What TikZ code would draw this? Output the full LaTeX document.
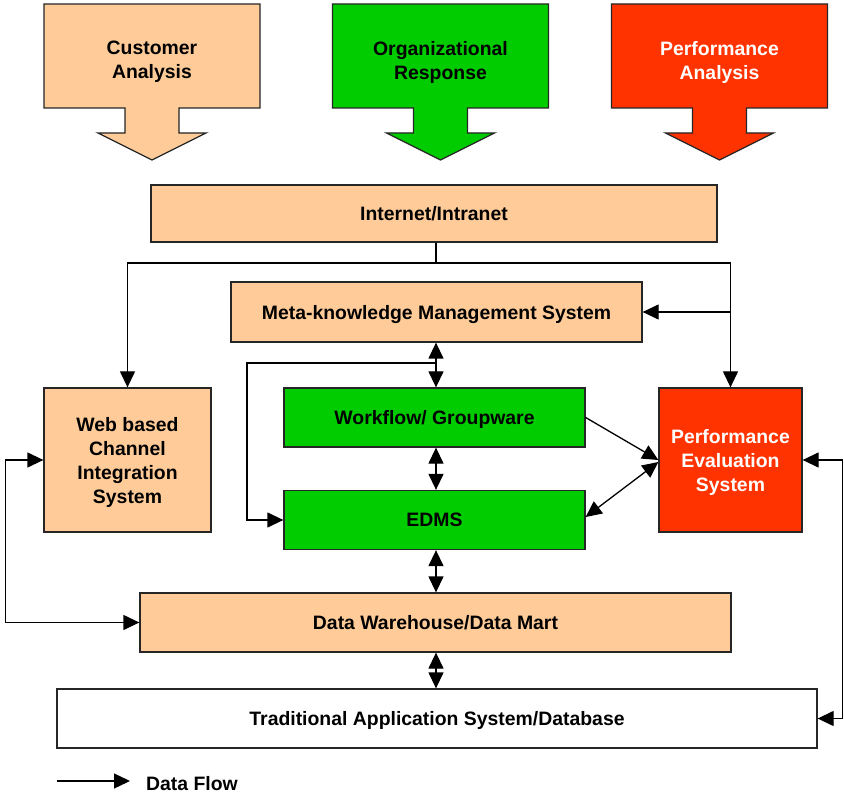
\documentclass[tikz,border=0pt]{standalone}
\usepackage{fontspec}
\setmainfont{Liberation Sans}
\usetikzlibrary{arrows.meta}
\definecolor{peach}{RGB}{255,204,153}
\definecolor{leafgreen}{RGB}{0,204,0}
\definecolor{alertred}{RGB}{255,51,0}

\begin{document}
\begin{tikzpicture}[
x=1pt, y=-1pt,
font=\fontsize{19.4}{24}\selectfont\bfseries,
box/.style={rectangle, draw=black!85, line width=1.3pt, inner sep=0pt, align=center, text depth=0pt},
peachbox/.style={box, fill=peach},
greenbox/.style={box, fill=leafgreen},
redbox/.style={box, fill=alertred, text=white},
plainbox/.style={box, fill=white},
callouttext/.style={align=center, inner sep=0pt},
calloutline/.style={draw=black!85, line width=1.3pt},
downcallout/.pic={\path[pic actions] (-108,-52) -- (108,-52) -- (108,52) -- (27,52) -- (27,77) -- (54,77) -- (0,104) -- (-54,77) -- (-27,77) -- (-27,52) -- (-108,52) -- cycle;},
flow/.style={-{Triangle[length=16pt,width=15pt]}, line width=1.3pt},
dflow/.style={{Triangle[length=16pt,width=15pt]}-{Triangle[length=16pt,width=15pt]}, line width=1.3pt},
]
\useasboundingbox (0,0) rectangle (844,794);

%Callouts
\pic[calloutline, fill=peach]      at (152,56)   {downcallout};
\pic[calloutline, fill=leafgreen]  at (440.5,56) {downcallout};
\pic[calloutline, fill=alertred]   at (719.5,56) {downcallout};
\node[callouttext]             (cust) at (152,62)   {Customer\\Analysis};
\node[callouttext]             (org)  at (440.5,62) {Organizational\\Response};
\node[callouttext, text=white] (perfan) at (719.5,62) {Performance\\Analysis};

%Nodes
\node[peachbox, minimum width=566pt, minimum height=57pt]  (inet) at (434,213.5)   {Internet/Intranet};
\node[peachbox, minimum width=411pt, minimum height=60pt]  (meta) at (436.5,312)   {Meta-knowledge Management System};
\node[peachbox, minimum width=167pt, minimum height=144pt] (web)  at (127.5,460)   {Web based\\Channel\\Integration\\System};
\node[greenbox, minimum width=301pt, minimum height=59pt]  (work) at (434.5,417.5) {Workflow/ Groupware};
\node[greenbox, minimum width=301pt, minimum height=59pt]  (edms) at (434.5,520)   {EDMS};
\node[redbox,   minimum width=143pt, minimum height=144pt] (perf) at (730.5,460)   {Performance\\Evaluation\\System};
\node[peachbox, minimum width=591pt, minimum height=59pt]  (dw)   at (435.5,622.5) {Data Warehouse/Data Mart};
\node[plainbox, minimum width=760pt, minimum height=59pt]  (trad) at (437,718.5)   {Traditional Application System/Database};

%Coordinates
\coordinate (spine) at (436,0);
\coordinate (split) at (436,263);
\coordinate (mws)   at (436,363);
\coordinate (legA)  at (57,781);
\coordinate (legB)  at (130,781);

%Lines
\draw[line width=1.3pt] (inet.south -| split) -- (split);
\draw[flow] (split) -| (web.north);
\draw[flow] (split) -| (perf.north);
\draw[flow] (perf.north |- meta.east) -- (meta.east);
\draw[dflow] (meta.south -| spine) -- (work.north -| spine);
\draw[flow] (mws) -- ++(-189,0) |- (edms.west);
\draw[dflow] (work.south -| spine) -- (edms.north -| spine);
\draw[dflow] (edms.south -| spine) -- (dw.north -| spine);
\draw[dflow] (dw.south -| spine) -- (trad.north -| spine);
\draw[flow] (work.east) -- (perf.west);
\draw[dflow] ([yshift=-2pt]perf.west) -- ([yshift=3pt]edms.east);
\draw[dflow] (web.west) -- ++(-38,0) |- (dw.west);
\draw[dflow] (perf.east) -- ++(40,0) |- (trad.east);

%Legend
\draw[flow] (legA) -- (legB);
\node[anchor=west, inner sep=0pt] (legtext) at (146,784) {Data Flow};
\end{tikzpicture}
\end{document}
